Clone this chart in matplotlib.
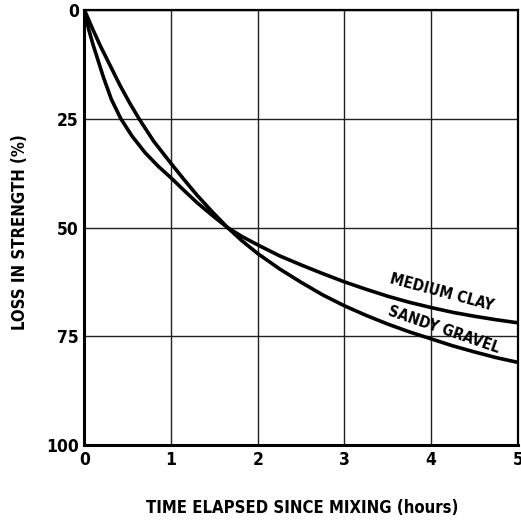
import matplotlib
matplotlib.use("Agg")
import matplotlib.pyplot as plt

plt.rcParams['font.family'] = ['DejaVu Sans']
plt.rcParams['font.stretch'] = 'condensed'

# Loss in strength (%) versus time since mixing (hours)
clay_t = [0, 0.05, 0.10, 0.22, 0.31, 0.42, 0.55, 0.70, 0.85, 1.00, 1.15, 1.30, 1.48, 1.65,
          1.82, 2.00, 2.25, 2.50, 2.75, 3.00, 3.25, 3.50, 3.75, 4.00, 4.25, 4.50, 4.75, 5.00]
clay_loss = [0, 4.5, 8.0, 15.5, 20.5, 25.0, 29.0, 32.8, 35.9, 38.6, 41.5, 44.3, 47.3, 50.0,
             52.1, 54.0, 56.5, 58.6, 60.6, 62.5, 64.2, 65.8, 67.2, 68.4, 69.5, 70.4, 71.2, 71.9]

gravel_t = [0, 0.05, 0.10, 0.18, 0.30, 0.41, 0.52, 0.63, 0.80, 1.00, 1.15, 1.30, 1.48, 1.65,
            1.82, 2.00, 2.25, 2.50, 2.75, 3.00, 3.25, 3.50, 3.75, 4.00, 4.25, 4.50, 4.75, 5.00]
gravel_loss = [0, 2.3, 4.6, 8.1, 12.9, 17.3, 21.3, 25.0, 30.2, 35.3, 39.0, 42.6, 46.5, 50.0,
               53.1, 56.0, 59.5, 62.6, 65.5, 68.0, 70.2, 72.2, 74.0, 75.6, 77.2, 78.6, 79.9, 81.0]

x_ticks = [0, 1, 2, 3, 4, 5]
x_labels = ['0', '1', '2', '3', '4', '5']
y_ticks = [0, 25, 50, 75, 100]
y_labels = ['0', '25', '50', '75', '100']

fig = plt.figure(figsize=(5.21, 5.23), dpi=100)
ax = fig.add_axes([0.162, 0.149, 0.832, 0.832])

ax.plot(clay_t, clay_loss, color='black', lw=2.6, solid_capstyle='round',
        solid_joinstyle='round', zorder=3)
ax.plot(gravel_t, gravel_loss, color='black', lw=2.6, solid_capstyle='round',
        solid_joinstyle='round', zorder=3)

ax.set_xlim(0, 5)
ax.set_ylim(100, 0)
ax.set_xticks(x_ticks)
ax.set_xticklabels(x_labels)
ax.set_yticks(y_ticks)
ax.set_yticklabels(y_labels)
ax.tick_params(length=0, labelsize=12.5, pad=4)
for lab in ax.get_xticklabels() + ax.get_yticklabels():
    lab.set_fontweight('semibold')
    lab.set_fontstretch('condensed')

ax.grid(True, color='#222222', lw=1.0)
ax.set_axisbelow(True)
for side in ['left', 'bottom']:
    ax.spines[side].set_linewidth(2.2)
for side in ['top', 'right']:
    ax.spines[side].set_linewidth(1.6)

ax.text(4.12, 65.0, 'MEDIUM CLAY', rotation=-15, ha='center', va='center',
        fontsize=11, fontweight='semibold', fontstretch='condensed',
        rotation_mode='anchor')
ax.text(4.15, 73.4, 'SANDY GRAVEL', rotation=-19, ha='center', va='center',
        fontsize=11, fontweight='semibold', fontstretch='condensed',
        rotation_mode='anchor')

fig.text(0.58, 0.029, 'TIME ELAPSED SINCE MIXING (hours)', ha='center', va='center',
         fontsize=12, fontweight='semibold', fontstretch='condensed')
fig.text(0.038, 0.556, 'LOSS IN STRENGTH (%)', ha='center', va='center',
         rotation=90, fontsize=12, fontweight='semibold', fontstretch='condensed')

fig.savefig('out.png', dpi=100)
